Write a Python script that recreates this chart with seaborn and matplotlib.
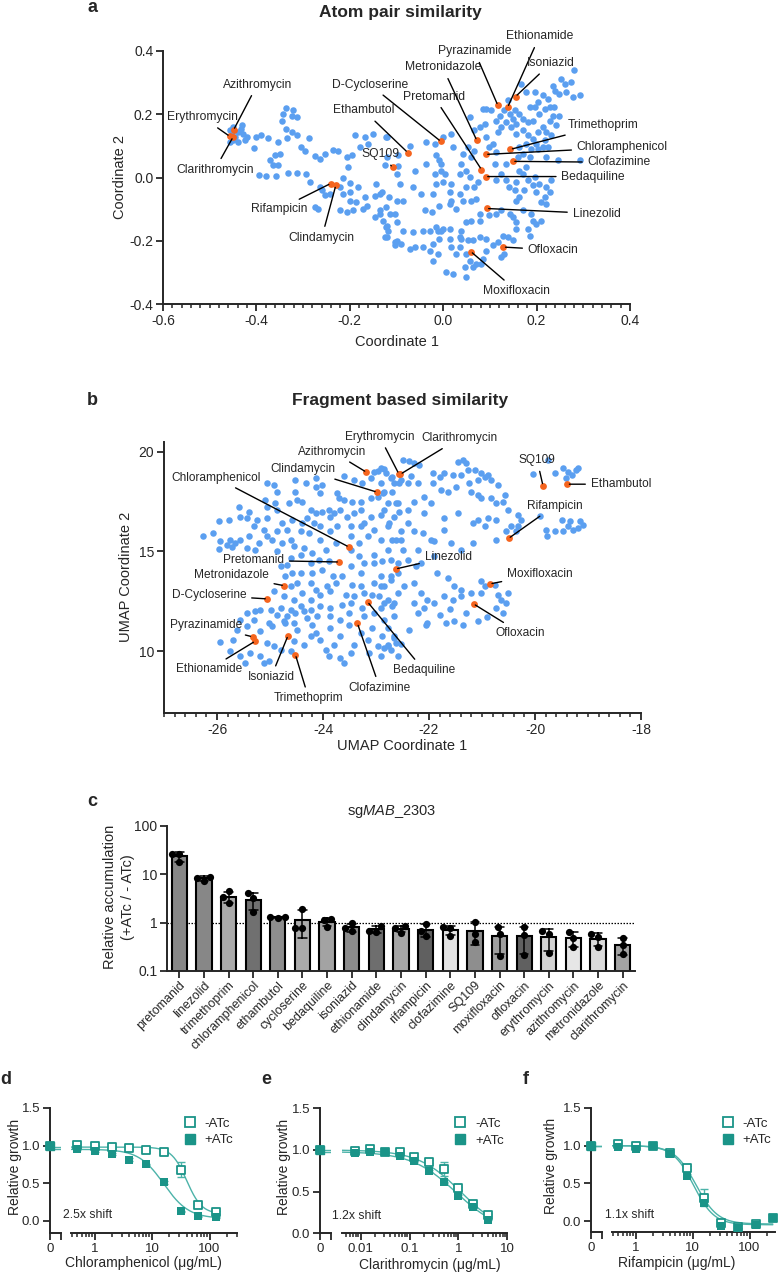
import numpy as np
import pandas as pd
import matplotlib
matplotlib.use('agg')
import matplotlib.pyplot as plt
from matplotlib.ticker import MultipleLocator, FixedLocator, LogLocator, NullFormatter, NullLocator
from matplotlib.lines import Line2D
import seaborn as sns

sns.set_style('ticks')
plt.rcParams['font.family'] = ['Liberation Sans', 'DejaVu Sans']
plt.rcParams['axes.unicode_minus'] = False
plt.rcParams['mathtext.fontset'] = 'custom'
plt.rcParams['mathtext.rm'] = 'Liberation Sans'
plt.rcParams['mathtext.it'] = 'Liberation Sans:italic'

# ---------------- panel a: atom pair similarity (MDS) ----------------
atom_bg = [
    (-0.457, 0.149), (-0.45, 0.159), (-0.439, 0.143), (-0.432, 0.154), (-0.428, 0.138), (-0.43, 0.165),
    (-0.421, 0.128), (-0.45, 0.117), (-0.439, 0.112), (-0.425, 0.117), (-0.457, 0.112), (-0.446, 0.128),
    (-0.453, 0.143), (-0.405, 0.093), (-0.4, 0.128), (-0.39, 0.135), (-0.375, 0.126), (-0.353, 0.112),
    (-0.335, 0.124), (-0.337, 0.22), (-0.342, 0.2), (-0.346, 0.18), (-0.321, 0.212), (-0.312, 0.19),
    (-0.323, 0.196), (-0.323, 0.143), (-0.313, 0.133), (-0.305, 0.098), (-0.297, 0.085), (-0.287, 0.126),
    (-0.337, 0.154), (-0.371, 0.056), (-0.36, 0.07), (-0.35, 0.075), (-0.364, 0.038), (-0.353, 0.038),
    (-0.357, 0.006), (-0.394, 0.009), (-0.38, 0.006), (-0.333, 0.014), (-0.314, 0.014), (-0.294, 0.012),
    (-0.275, 0.068), (-0.264, 0.059), (-0.253, 0.073), (-0.237, 0.088), (-0.225, 0.083), (-0.286, -0.015),
    (-0.264, -0.031), (-0.26, -0.041), (-0.253, -0.054), (-0.242, -0.052), (-0.221, -0.031), (-0.214, -0.052),
    (-0.2, -0.046), (-0.214, 0.0), (-0.2, -0.018), (-0.2, -0.073), (-0.221, -0.104), (-0.207, -0.11),
    (-0.193, -0.104), (-0.275, -0.094), (-0.268, -0.099), (-0.207, 0.064), (-0.196, 0.07), (-0.204, 0.033),
    (-0.189, 0.133), (-0.179, 0.096), (-0.168, 0.128), (-0.161, 0.107), (-0.15, 0.138), (-0.143, -0.02),
    (-0.145, -0.057), (-0.132, -0.046), (-0.146, -0.126), (-0.136, -0.104), (-0.129, -0.136), (-0.121, -0.152),
    (-0.118, -0.168), (-0.121, -0.189), (-0.1, -0.2), (-0.104, -0.215), (-0.186, -0.078), (-0.168, -0.062),
    (-0.164, -0.089), (-0.182, -0.031), (-0.171, -0.099), (-0.121, 0.064), (-0.121, 0.128), (-0.1, 0.012),
    (-0.096, 0.07), (-0.1, -0.073), (-0.114, -0.115),
    (0.280, 0.339), (0.253, 0.312), (0.274, 0.302), (0.26, 0.296), (0.24, 0.275), (0.249, 0.265),
    (0.263, 0.27), (0.292, 0.262), (0.278, 0.254), (0.235, 0.288), (0.213, 0.26), (0.224, 0.249),
    (0.228, 0.223), (0.196, 0.27), (0.185, 0.223), (0.196, 0.223), (0.203, 0.238), (0.217, 0.217),
    (0.238, 0.223), (0.249, 0.196), (0.235, 0.196), (0.206, 0.202), (0.167, 0.296), (0.178, 0.27),
    (0.192, 0.18), (0.181, 0.175), (0.171, 0.186), (0.163, 0.202), (0.153, 0.212), (0.142, 0.202),
    (0.131, 0.212), (0.121, 0.196), (0.114, 0.18), (0.103, 0.212), (0.092, 0.217), (0.139, 0.244),
    (0.149, 0.186), (0.156, 0.17), (0.146, 0.159), (0.135, 0.175), (0.124, 0.161), (0.117, 0.143),
    (0.156, 0.138), (0.171, 0.149), (0.181, 0.133), (0.192, 0.122), (0.203, 0.143), (0.213, 0.159),
    (0.22, 0.143), (0.228, 0.18), (0.242, 0.165), (0.231, 0.133), (0.199, 0.107), (0.217, 0.117),
    (0.213, 0.096), (0.203, 0.091), (0.224, 0.096), (0.188, 0.091), (0.178, 0.107), (0.163, 0.096),
    (0.171, 0.075), (0.16, 0.064), (0.185, 0.064), (0.22, 0.064), (0.245, 0.056), (0.292, 0.056),
    (0.178, 0.033), (0.171, 0.012), (0.163, 0.022), (0.156, -0.015), (0.181, -0.009), (0.196, 0.001),
    (0.206, -0.02), (0.22, -0.031), (0.231, -0.009), (0.228, -0.046), (0.217, -0.062), (0.199, -0.046),
    (0.192, -0.025), (0.174, -0.041), (0.163, -0.062), (0.156, -0.073), (0.153, -0.041), (0.141, -0.031),
    (0.135, -0.009), (0.124, 0.012), (0.114, -0.009), (0.135, 0.043), (0.11, 0.043), (0.114, 0.08),
    (0.106, 0.107), (0.099, 0.096), (0.092, 0.128), (0.089, 0.17), (0.078, 0.159), (0.067, 0.149),
    (0.057, 0.191), (0.085, 0.217), (0.067, 0.085), (0.06, 0.064), (0.053, 0.096), (0.042, 0.075),
    (0.039, 0.043), (0.049, 0.022), (0.035, 0.012), (0.021, 0.096), (0.017, 0.138), (0.0, 0.128),
    (-0.018, 0.107), (-0.036, 0.112), (-0.072, 0.099), (-0.097, 0.035), (0.057, 0.001), (0.067, -0.031),
    (0.074, -0.015), (0.049, -0.031), (0.035, -0.052), (0.014, -0.046), (0.017, -0.073), (0.042, -0.073),
    (0.06, -0.073), (0.071, -0.068), (0.028, -0.099), (0.014, -0.083), (-0.008, -0.089), (-0.022, -0.052),
    (-0.047, -0.052), (-0.065, -0.031), (-0.061, 0.022), (-0.036, 0.043), (-0.018, 0.012), (-0.004, 0.022),
    (0.003, 0.012), (-0.015, 0.07), (-0.008, 0.054), (-0.004, 0.043), (0.017, -0.02), (0.0, -0.015),
    (-0.015, -0.02), (-0.093, -0.02), (-0.086, -0.073), (-0.104, -0.115), (-0.1, -0.141), (-0.122, -0.094),
    (-0.122, -0.157), (-0.125, -0.189), (-0.104, -0.205), (-0.09, -0.21), (-0.086, -0.168), (-0.065, -0.173),
    (-0.072, -0.226), (-0.061, -0.22), (-0.043, -0.168), (-0.04, -0.104), (-0.025, -0.11), (-0.029, -0.168),
    (-0.015, -0.157), (-0.011, -0.168), (-0.004, -0.168), (0.0, -0.162), (0.014, -0.162), (-0.043, -0.22),
    (-0.029, -0.231), (-0.022, -0.21), (-0.008, -0.194), (0.014, -0.194), (0.017, -0.22), (0.035, -0.189),
    (0.039, -0.168), (0.049, -0.141), (0.06, -0.136), (0.078, -0.136), (0.078, -0.115), (0.099, -0.12),
    (0.114, -0.115), (0.124, -0.104), (0.142, -0.115), (0.149, -0.126), (0.156, -0.141), (0.171, -0.104),
    (0.188, -0.115), (0.192, -0.136), (0.21, -0.136), (0.199, -0.147), (0.181, -0.162), (0.156, -0.162),
    (0.149, -0.199), (0.139, -0.189), (0.128, -0.184), (0.117, -0.205), (0.106, -0.215), (0.092, -0.194),
    (0.078, -0.189), (0.064, -0.199), (0.053, -0.199), (0.039, -0.194), (0.035, -0.22), (0.049, -0.242),
    (0.057, -0.263), (0.071, -0.273), (0.081, -0.273), (0.085, -0.257), (0.064, -0.284), (0.046, -0.284),
    (0.049, -0.315), (0.021, -0.305), (0.007, -0.3), (0.028, -0.242), (0.131, -0.242), (0.124, -0.252),
    (-0.011, -0.242), (-0.022, -0.263), (0.092, -0.231), (0.185, -0.184), (0.21, -0.078), (0.22, -0.083),
    (-0.122, 0.128), (-0.125, 0.038), (-0.136, -0.052), (-0.115, -0.062), (-0.136, -0.115),
]
atom_drugs = ['Azithromycin', 'Erythromycin', 'Clarithromycin', 'Rifampicin', 'Clindamycin', 'SQ109',
              'Ethambutol', 'D-Cycloserine', 'Pretomanid', 'Metronidazole', 'Pyrazinamide', 'Ethionamide',
              'Isoniazid', 'Trimethoprim', 'Chloramphenicol', 'Clofazimine', 'Bedaquiline', 'Linezolid',
              'Ofloxacin', 'Moxifloxacin']
atom_drug_x = [-0.449, -0.457, -0.450, -0.241, -0.230, -0.108, -0.076, -0.005, 0.082, 0.072, 0.117, 0.138,
               0.155, 0.144, 0.091, 0.149, 0.091, 0.093, 0.129, 0.059]
atom_drug_y = [0.150, 0.130, 0.128, -0.019, -0.025, 0.032, 0.079, 0.114, 0.025, 0.117, 0.228, 0.222,
               0.256, 0.089, 0.073, 0.051, 0.003, -0.098, -0.220, -0.234]

# ---------------- panel b: fragment based similarity (UMAP) ----------------
frag_bg = [
    (-23.60, 18.80), (-23.41, 18.58), (-23.26, 18.42), (-23.10, 18.67), (-23.04, 19.00), (-22.97, 19.05),
    (-22.85, 19.12), (-22.72, 18.67), (-22.56, 18.42), (-22.86, 17.95), (-22.69, 18.00), (-22.91, 18.42),
    (-25.06, 18.42), (-24.93, 18.33), (-24.87, 18.00), (-24.52, 18.58), (-24.52, 18.00), (-24.33, 18.42),
    (-24.14, 18.67), (-24.14, 18.25), (-24.01, 18.33), (-24.05, 17.92), (-23.73, 17.92), (-23.70, 17.67),
    (-23.60, 17.58), (-23.45, 17.50), (-23.29, 17.50), (-23.10, 17.67), (-22.97, 17.75), (-22.78, 17.42),
    (-22.59, 17.42), (-25.40, 17.00), (-25.09, 17.58), (-25.06, 17.25), (-24.90, 17.42), (-24.87, 17.08),
    (-24.65, 17.42), (-24.49, 17.58), (-24.39, 17.50), (-24.23, 17.08), (-24.14, 16.92), (-24.01, 17.00),
    (-23.89, 17.08), (-23.79, 16.92), (-23.67, 17.08), (-23.54, 16.75), (-23.41, 16.92), (-23.29, 17.08),
    (-23.22, 16.42), (-23.10, 16.75), (-22.91, 16.83), (-22.75, 16.42), (-22.66, 16.75), (-25.24, 16.58),
    (-25.06, 16.67), (-24.77, 16.42), (-24.58, 16.58), (-24.39, 16.42), (-24.30, 16.67), (-24.17, 16.42),
    (-24.05, 16.25), (-23.86, 16.75), (-23.73, 16.25), (-23.48, 16.25), (-23.29, 16.25), (-23.04, 16.08),
    (-25.97, 16.50), (-25.78, 16.58), (-25.59, 17.25), (-25.56, 16.75), (-25.43, 16.67), (-25.31, 16.25),
    (-25.12, 16.08), (-25.06, 15.75), (-24.87, 16.00), (-24.68, 16.08), (-24.61, 15.58), (-24.42, 16.00),
    (-24.27, 15.92), (-24.05, 15.58), (-23.86, 16.00), (-23.76, 15.42), (-23.48, 15.75), (-23.32, 15.42),
    (-23.16, 15.75), (-22.91, 15.58), (-22.78, 15.08), (-22.63, 15.58), (-26.26, 15.75), (-26.07, 15.92),
    (-25.94, 15.50), (-25.75, 15.58), (-25.66, 15.42), (-25.56, 15.58), (-25.40, 15.75), (-25.21, 15.42),
    (-25.97, 15.12), (-25.81, 15.33), (-25.72, 15.22), (-25.43, 15.17), (-25.28, 15.08), (-24.96, 15.58),
    (-24.77, 15.42), (-24.87, 15.00), (-24.55, 15.25), (-24.36, 15.17), (-24.20, 14.92), (-23.95, 15.08),
    (-23.48, 15.08), (-23.32, 14.75), (-23.04, 14.83), (-24.61, 14.67), (-24.42, 14.83), (-24.23, 14.42),
    (-24.08, 14.58), (-23.89, 14.50), (-23.22, 14.42), (-23.04, 14.42), (-22.88, 14.50), (-22.59, 14.42),
    (-23.48, 14.25), (-23.29, 13.92), (-22.91, 13.75), (-22.72, 13.75), (-22.59, 13.92), (-24.80, 14.25),
    (-24.68, 14.33), (-24.58, 13.92), (-24.71, 13.75), (-24.42, 13.92), (-24.20, 13.92), (-24.01, 14.08),
    (-23.82, 13.75), (-23.64, 13.75), (-24.61, 13.25), (-24.49, 13.42), (-24.23, 13.42), (-24.14, 13.08),
    (-23.92, 13.25), (-23.76, 13.42), (-23.45, 13.33), (-23.29, 13.25), (-23.04, 13.42), (-22.91, 13.25),
    (-22.72, 13.58), (-24.93, 13.00), (-24.74, 12.75), (-24.55, 12.58), (-24.39, 12.92), (-24.23, 12.58),
    (-24.05, 12.83), (-23.86, 13.00), (-23.57, 12.83), (-23.41, 12.75), (-23.22, 12.92), (-23.07, 12.83),
    (-22.94, 12.75), (-22.78, 12.58), (-22.59, 12.92), (-25.18, 12.08), (-24.99, 12.08), (-24.80, 12.17),
    (-24.61, 12.08), (-24.42, 12.25), (-24.23, 12.08), (-24.05, 12.25), (-23.86, 12.17), (-23.64, 12.33),
    (-23.48, 12.42), (-23.26, 12.17), (-22.91, 12.17), (-22.69, 12.25),
    (-25.43, 11.92), (-25.28, 12.00), (-24.87, 11.83), (-24.68, 11.75), (-24.52, 11.92), (-24.36, 12.00),
    (-25.56, 11.58), (-25.31, 11.58), (-25.02, 11.42), (-24.74, 11.50), (-24.55, 11.42), (-24.30, 11.67),
    (-24.11, 11.75), (-23.86, 11.75), (-23.67, 11.58), (-23.51, 11.92), (-23.22, 11.75), (-23.04, 11.92),
    (-22.85, 11.58), (-22.66, 11.75),
    (-25.94, 10.45), (-25.69, 10.58), (-25.75, 10.00), (-25.56, 9.75), (-25.47, 9.42), (-25.37, 9.92),
    (-25.18, 9.75), (-25.12, 9.42), (-25.02, 9.50), (-25.06, 10.42), (-24.93, 10.25), (-24.80, 10.08),
    (-24.61, 10.00), (-24.55, 10.50), (-24.36, 10.33), (-24.23, 10.75), (-24.14, 10.92), (-24.05, 10.58),
    (-23.95, 10.08), (-23.89, 9.75), (-23.79, 10.33), (-23.67, 10.75), (-23.67, 9.67), (-23.60, 9.42),
    (-23.48, 9.92), (-23.41, 10.33), (-23.29, 10.92), (-23.16, 10.58), (-23.13, 9.92), (-22.97, 10.25),
    (-22.78, 10.33), (-22.66, 10.75), (-22.91, 9.75), (-22.59, 9.75), (-25.62, 11.08), (-25.43, 11.25),
    (-25.18, 11.00), (-24.96, 11.25), (-24.71, 11.42), (-24.49, 11.08), (-24.20, 11.33), (-23.86, 11.17),
    (-23.51, 11.33), (-23.07, 11.17), (-22.78, 11.17),
    (-22.91, 19.17), (-22.81, 18.92), (-22.69, 18.75), (-22.50, 19.58), (-22.37, 19.55), (-22.28, 19.42),
    (-22.18, 19.33), (-22.34, 18.80), (-22.53, 18.58), (-22.66, 18.42), (-22.40, 18.42), (-22.21, 18.42),
    (-22.85, 18.00), (-21.93, 18.92), (-21.80, 18.75), (-21.71, 18.92), (-21.55, 18.83), (-21.46, 19.50),
    (-21.36, 19.58), (-21.30, 19.42), (-21.27, 19.08), (-21.39, 18.83), (-21.14, 19.08), (-21.02, 18.92),
    (-20.95, 18.75), (-20.89, 18.83), (-21.08, 18.58), (-20.83, 18.58), (-20.70, 18.33), (-21.93, 18.42),
    (-21.77, 18.08), (-21.65, 18.00), (-21.49, 18.25), (-21.24, 18.42), (-21.20, 18.00), (-21.08, 17.83),
    (-21.02, 17.67), (-20.83, 17.67), (-20.73, 17.42), (-20.61, 17.50), (-20.57, 17.83), (-20.51, 17.08),
    (-22.09, 17.75), (-21.96, 17.42), (-22.28, 17.50), (-22.62, 17.42), (-22.85, 17.08), (-22.78, 16.25),
    (-22.56, 17.00), (-22.40, 17.08), (-22.09, 16.92), (-21.71, 16.67), (-21.46, 16.92), (-21.17, 16.42),
    (-21.08, 16.58), (-20.95, 16.25), (-20.89, 16.67), (-20.73, 16.58), (-20.54, 16.00), (-20.73, 15.58),
    (-20.32, 16.83), (-20.26, 16.58), (-20.32, 16.25), (-20.35, 16.00), (-20.45, 16.25), (-19.91, 16.78),
    (-19.50, 16.58), (-19.34, 16.50), (-19.15, 16.50), (-19.37, 16.25), (-19.28, 16.08), (-19.47, 16.00),
    (-19.18, 16.17), (-19.09, 16.33), (-19.80, 16.08), (-19.63, 16.00), (-19.78, 15.75), (-20.04, 18.87),
    (-19.75, 19.58), (-19.63, 18.92), (-19.47, 19.17), (-19.37, 19.00), (-19.22, 19.08), (-19.31, 18.83),
    (-19.18, 19.17), (-19.41, 18.67), (-22.40, 16.42), (-22.28, 16.00), (-22.53, 16.00), (-22.69, 15.58),
    (-22.53, 15.58), (-22.12, 15.92), (-21.96, 15.58), (-21.90, 15.50), (-21.71, 16.08), (-21.58, 15.42),
    (-21.39, 15.08), (-21.17, 15.42), (-22.50, 15.08), (-22.21, 15.08), (-22.72, 14.58), (-22.40, 14.58),
    (-22.25, 14.25), (-22.15, 14.42), (-21.90, 14.75), (-21.84, 13.92), (-21.65, 13.67), (-21.52, 13.25),
    (-21.39, 13.08), (-21.55, 12.58), (-21.39, 12.75), (-21.02, 13.50), (-20.95, 13.25), (-20.76, 13.33),
    (-20.70, 12.83), (-20.64, 12.58), (-21.02, 12.92), (-21.20, 12.92), (-20.73, 12.17), (-20.54, 12.42),
    (-20.51, 12.92), (-22.85, 13.25), (-22.66, 12.42), (-22.85, 12.42), (-22.47, 13.25), (-22.28, 13.42),
    (-22.15, 12.92), (-22.03, 12.58), (-21.90, 12.42), (-21.71, 12.75), (-22.28, 12.42), (-22.09, 12.17),
    (-22.88, 10.75), (-22.78, 10.25), (-22.85, 10.17), (-22.66, 10.67), (-22.62, 10.42), (-22.53, 10.38),
    (-22.72, 10.08), (-22.37, 11.08), (-22.06, 11.33), (-21.68, 11.42), (-21.52, 11.50), (-21.36, 11.33),
    (-21.08, 11.50), (-22.03, 11.42), (-22.20, 11.90), (-21.80, 11.80), (-21.30, 11.90), (-20.90, 11.70),
    (-21.60, 12.10), (-20.60, 11.90),
]
frag_drugs = ['Erythromycin', 'Clarithromycin', 'Azithromycin', 'Clindamycin', 'Chloramphenicol', 'Pretomanid',
              'Metronidazole', 'D-Cycloserine', 'Pyrazinamide', 'Ethionamide', 'Isoniazid', 'Trimethoprim',
              'Clofazimine', 'Bedaquiline', 'Ofloxacin', 'Moxifloxacin', 'Linezolid', 'Rifampicin', 'SQ109',
              'Ethambutol']
frag_drug_x = [-22.57, -22.54, -23.18, -22.98, -23.51, -23.69, -24.73, -25.05, -25.33, -25.28, -24.66, -24.52,
               -23.35, -23.16, -21.16, -20.85, -22.63, -20.50, -19.85, -19.39]
frag_drug_y = [18.89, 18.87, 18.97, 17.97, 15.22, 14.47, 13.28, 12.62, 10.72, 10.50, 10.78, 9.82,
               11.39, 12.47, 12.37, 13.37, 14.12, 15.65, 18.30, 18.37]

# ---------------- panel c: relative accumulation ----------------
acc_drugs = ['pretomanid', 'linezolid', 'trimethoprim', 'chloramphenicol', 'ethambutol', 'cycloserine',
             'bedaquiline', 'isoniazid', 'ethionamide', 'clindamycin', 'rifampicin', 'clofazimine', 'SQ109',
             'moxifloxacin', 'ofloxacin', 'erythromycin', 'azithromycin', 'metronidazole', 'clarithromycin']
acc_rep1 = [26.3, 7.3, 4.38, 4.05, 1.27, 1.89, 1.20, 0.97, 0.85, 0.83, 0.95, 0.80, 1.05, 0.80, 0.80, 0.68, 0.63, 0.58, 0.49]
acc_rep2 = [26.3, 8.9, 2.59, 1.69, 1.30, 0.76, 0.82, 0.68, 0.68, 0.62, 0.52, 0.53, 0.58, 0.57, 0.56, 0.57, 0.47, 0.50, 0.345]
acc_rep3 = [17.4, 8.3, 3.34, 3.19, 1.28, 0.76, 1.12, 0.76, 0.65, 0.76, 0.68, 0.76, 0.40, 0.20, 0.21, 0.23, 0.32, 0.32, 0.22]
acc_colors = ['#878787', '#878787', '#a9a9a9', '#707070', '#8e8e8e', '#ababab', '#a3a3a3', '#8c8c8c', '#6e6e6e',
              '#a6a6a6', '#606060', '#e3e3e3', '#8e8e8e', '#9f9f9f', '#606060', '#d3d3d3', '#e6e6e6', '#dadada',
              '#a3a3a3']

# ---------------- panels d-f: dose response ----------------
chl_conc = [0.5, 1, 2, 4, 8, 16, 32, 64, 128]
chl_minus = [1.01, 1.00, 0.98, 0.965, 0.94, 0.91, 0.68, 0.21, 0.115]
chl_minus_sd = [0.01, 0.01, 0.01, 0.01, 0.01, 0.02, 0.10, 0.02, 0.02]
chl_plus = [0.955, 0.93, 0.89, 0.81, 0.75, 0.51, 0.124, 0.058, 0.045]
chl_plus_sd = [0.01, 0.01, 0.01, 0.02, 0.01, 0.02, 0.01, 0.01, 0.01]
chl_fit_minus = (0.98, 0.09, 40.0, 3.3)   # top, bottom, IC50, hill
chl_fit_plus = (0.95, 0.03, 16.0, 2.0)

cla_conc = [0.0078, 0.0156, 0.03125, 0.0625, 0.125, 0.25, 0.5, 1, 2, 4]
cla_minus = [0.99, 1.01, 0.98, 0.97, 0.92, 0.86, 0.77, 0.54, 0.35, 0.22]
cla_minus_sd = [0.01, 0.01, 0.01, 0.01, 0.01, 0.02, 0.08, 0.02, 0.02, 0.01]
cla_plus = [0.96, 0.98, 0.97, 0.93, 0.87, 0.75, 0.61, 0.45, 0.31, 0.165]
cla_plus_sd = [0.01, 0.01, 0.01, 0.01, 0.01, 0.01, 0.01, 0.01, 0.01, 0.01]
cla_fit_minus = (1.0, 0.0, 1.1, 1.0)
cla_fit_plus = (0.98, 0.0, 0.9, 0.95)

rif_conc = [0.5, 1, 2, 4, 8, 16, 32, 64, 128, 256]
rif_minus = [1.02, 1.00, 1.00, 0.90, 0.71, 0.31, -0.02, -0.075, -0.04, 0.045]
rif_minus_sd = [0.01, 0.01, 0.01, 0.02, 0.02, 0.11, 0.02, 0.02, 0.01, 0.01]
rif_plus = [0.98, 0.955, 1.00, 0.885, 0.60, 0.235, -0.066, -0.097, -0.053, 0.045]
rif_plus_sd = [0.01, 0.01, 0.01, 0.01, 0.02, 0.02, 0.01, 0.01, 0.01, 0.01]
rif_fit_minus = (1.0, -0.04, 11.5, 2.3)
rif_fit_plus = (1.0, -0.05, 10.4, 2.4)

zero_growth = 1.0

BLUE = '#5b9ff0'
ORANGE = '#f5641e'
TEAL = '#1a9488'
TEAL_LINE = '#4cb3a9'
W, H = 780, 1274


def fx(px):
    return px / W


def fy(py):
    return 1 - py / H


def style_axes(ax):
    for side in ['top', 'right']:
        ax.spines[side].set_visible(False)
    for side in ['left', 'bottom']:
        ax.spines[side].set_linewidth(1.4)
    ax.tick_params(which='major', direction='out', length=5, width=1.3, labelsize=10, pad=2)
    ax.tick_params(which='minor', direction='out', length=3, width=1.1)


def annotate_drugs(ax, names, xs, ys, labels, size):
    for name, x, y in zip(names, xs, ys):
        tx, ty, ha = labels[name]
        ax.annotate(name, xy=(x, y), xytext=(tx, ty), ha=ha, va='center', fontsize=size,
                    annotation_clip=False,
                    arrowprops=dict(arrowstyle='-', color='black', lw=1.0, shrinkA=1.5, shrinkB=1.5))


fig = plt.figure(figsize=(7.8, 12.74), dpi=100)

# ---- a ----
ax_a = fig.add_axes([fx(163), fy(304), (630 - 163) / W, (304 - 51) / H])
sns.scatterplot(x=[p[0] for p in atom_bg], y=[p[1] for p in atom_bg], color=BLUE, s=22,
                linewidth=0, ax=ax_a, zorder=2)
sns.scatterplot(x=atom_drug_x, y=atom_drug_y, color=ORANGE, s=24, linewidth=0, ax=ax_a, zorder=3)
ax_a.set_xlim(-0.6, 0.4)
ax_a.set_ylim(-0.4, 0.4)
ax_a.xaxis.set_major_locator(MultipleLocator(0.2))
ax_a.xaxis.set_minor_locator(MultipleLocator(0.02))
ax_a.yaxis.set_major_locator(MultipleLocator(0.2))
ax_a.set_xticklabels([f'{v:.1f}' for v in ax_a.get_xticks()])
ax_a.set_yticklabels([f'{v:.1f}' for v in ax_a.get_yticks()])
style_axes(ax_a)
ax_a.set_xlabel('')
ax_a.set_ylabel('')
atom_labels = {
    'Azithromycin': (-0.398, 0.294, 'center'), 'Erythromycin': (-0.515, 0.190, 'center'),
    'Clarithromycin': (-0.489, 0.025, 'center'), 'Rifampicin': (-0.352, -0.101, 'center'),
    'Clindamycin': (-0.260, -0.190, 'center'), 'SQ109': (-0.134, 0.073, 'center'),
    'Ethambutol': (-0.170, 0.212, 'center'), 'D-Cycloserine': (-0.157, 0.294, 'center'),
    'Pretomanid': (-0.020, 0.256, 'center'), 'Metronidazole': (-0.001, 0.348, 'center'),
    'Pyrazinamide': (0.067, 0.399, 'center'), 'Ethionamide': (0.206, 0.446, 'center'),
    'Isoniazid': (0.230, 0.361, 'center'), 'Trimethoprim': (0.266, 0.165, 'left'),
    'Chloramphenicol': (0.286, 0.095, 'left'), 'Clofazimine': (0.309, 0.048, 'left'),
    'Bedaquiline': (0.253, 0.003, 'left'), 'Linezolid': (0.277, -0.114, 'left'),
    'Ofloxacin': (0.181, -0.229, 'left'), 'Moxifloxacin': (0.157, -0.358, 'center'),
}
annotate_drugs(ax_a, atom_drugs, atom_drug_x, atom_drug_y, atom_labels, 8.7)
fig.text(fx(397), fy(342), 'Coordinate 1', ha='center', va='center', fontsize=10.5)
fig.text(fx(120), fy(177), 'Coordinate 2', ha='center', va='center', fontsize=10.5, rotation=90)
fig.text(fx(400), fy(13), 'Atom pair similarity', ha='center', va='center', fontsize=12.5, fontweight='bold')
fig.text(fx(92), fy(7), 'a', ha='center', va='center', fontsize=13, fontweight='bold')

# ---- b ----
ax_b = fig.add_axes([fx(164), fy(713), (641 - 164) / W, (713 - 441.7) / H])
sns.scatterplot(x=[p[0] for p in frag_bg], y=[p[1] for p in frag_bg], color=BLUE, s=22,
                linewidth=0, ax=ax_b, zorder=2)
sns.scatterplot(x=frag_drug_x, y=frag_drug_y, color=ORANGE, s=24, linewidth=0, ax=ax_b, zorder=3)
ax_b.set_xlim(-27, -18)
ax_b.set_ylim(6.9, 20.5)
ax_b.xaxis.set_major_locator(FixedLocator([-26, -24, -22, -20, -18]))
ax_b.xaxis.set_minor_locator(MultipleLocator(0.2))
ax_b.yaxis.set_major_locator(FixedLocator([10, 15, 20]))
style_axes(ax_b)
ax_b.set_xlabel('')
ax_b.set_ylabel('')
frag_labels = {
    'Erythromycin': (-22.93, 20.75, 'center'), 'Clarithromycin': (-21.43, 20.67, 'center'),
    'Azithromycin': (-23.82, 20.00, 'center'), 'Clindamycin': (-24.38, 19.12, 'center'),
    'Chloramphenicol': (-26.02, 18.70, 'center'), 'Pretomanid': (-25.31, 14.55, 'center'),
    'Metronidazole': (-25.73, 13.80, 'center'), 'D-Cycloserine': (-26.15, 12.80, 'center'),
    'Pyrazinamide': (-26.20, 11.30, 'center'), 'Ethionamide': (-26.15, 9.09, 'center'),
    'Isoniazid': (-24.98, 8.70, 'center'), 'Trimethoprim': (-24.27, 7.64, 'center'),
    'Clofazimine': (-22.93, 8.17, 'center'), 'Bedaquiline': (-22.10, 9.05, 'center'),
    'Ofloxacin': (-20.28, 10.92, 'center'), 'Moxifloxacin': (-19.91, 13.87, 'center'),
    'Linezolid': (-21.64, 14.72, 'center'), 'Rifampicin': (-19.63, 17.29, 'center'),
    'SQ109': (-19.96, 19.58, 'center'), 'Ethambutol': (-18.38, 18.37, 'center'),
}
annotate_drugs(ax_b, frag_drugs, frag_drug_x, frag_drug_y, frag_labels, 8.6)
fig.text(fx(402), fy(746), 'UMAP Coordinate 1', ha='center', va='center', fontsize=10.5)
fig.text(fx(126), fy(577), 'UMAP Coordinate 2', ha='center', va='center', fontsize=10.5, rotation=90)
fig.text(fx(400), fy(400), 'Fragment based similarity', ha='center', va='center', fontsize=12.5,
         fontweight='bold')
fig.text(fx(92), fy(400), 'b', ha='center', va='center', fontsize=13, fontweight='bold')

# ---- c ----
ax_c = fig.add_axes([fx(167), fy(971), (635 - 167) / W, (971 - 825.7) / H])
df_c = pd.DataFrame({
    'drug': acc_drugs * 3,
    'ratio': acc_rep1 + acc_rep2 + acc_rep3,
})
sns.barplot(data=df_c, x='drug', y='ratio', hue='drug', order=acc_drugs, hue_order=acc_drugs,
            palette=dict(zip(acc_drugs, acc_colors)), legend=False, estimator='mean', errorbar='sd',
            capsize=0.35, width=0.62, edgecolor='black', linewidth=1.5,
            err_kws={'color': 'black', 'linewidth': 1.1}, ax=ax_c, zorder=2)
ax_c.set_yscale('log', nonpositive='clip')
ax_c.set_ylim(0.1, 100)
ax_c.set_xlim(-0.9, 18.7)
sns.swarmplot(data=df_c, x='drug', y='ratio', order=acc_drugs, color='black', size=5.2, ax=ax_c, zorder=4)
ax_c.axhline(1, color='black', lw=0.9, ls=(0, (1.2, 1.2)), zorder=1)
ax_c.yaxis.set_major_locator(FixedLocator([0.1, 1, 10, 100]))
ax_c.yaxis.set_minor_locator(NullLocator())
ax_c.set_yticklabels(['0.1', '1', '10', '100'])
style_axes(ax_c)
ax_c.tick_params(axis='x', labelsize=9, pad=1)
ax_c.set_xticks(range(len(acc_drugs)))
ax_c.set_xticklabels(acc_drugs, rotation=45, ha='right', rotation_mode='anchor')
ax_c.set_xlabel('')
ax_c.set_ylabel('')
fig.text(fx(119), fy(897), 'Relative accumulation\n(+ATc / - ATc)', ha='center', va='center',
         fontsize=10.5, rotation=90, linespacing=1.35)
fig.text(fx(392), fy(811), r'sg$\it{MAB\_2303}$', ha='center', va='center', fontsize=10.5)
fig.text(fx(92), fy(802), 'c', ha='center', va='center', fontsize=13, fontweight='bold')


# ---- d, e, f ----
def hill(x, top, bottom, ic50, slope):
    return bottom + (top - bottom) / (1 + (x / ic50) ** slope)


def dose_panel(zero_px, main_px, top_py, bot_py, ylim, xlim, majors, major_labels,
               conc, minus, minus_sd, plus, plus_sd, fit_minus, fit_plus, shift_text, shift_px,
               xlabel, xlabel_px, ylabel_px, letter_px):
    axz = fig.add_axes([fx(zero_px[0]), fy(bot_py), (zero_px[1] - zero_px[0]) / W, (bot_py - top_py) / H])
    axm = fig.add_axes([fx(main_px[0]), fy(bot_py), (main_px[1] - main_px[0]) / W, (bot_py - top_py) / H])
    for ax in (axz, axm):
        ax.set_ylim(*ylim)
        style_axes(ax)
        ax.tick_params(labelsize=9.5)
    # zero-dose segment
    axz.set_xlim(0, 1)
    axz.set_xticks([0, 1])
    axz.set_xticklabels(['0', ''])
    axz.yaxis.set_major_locator(FixedLocator([0.0, 0.5, 1.0, 1.5]))
    axz.set_yticklabels(['0.0', '0.5', '1.0', '1.5'])
    axz.hlines([fit_minus[0], fit_plus[0]], 0, 1, color=TEAL_LINE, lw=1.0)
    axz.scatter([0], [zero_growth], marker='s', s=30, facecolor='white', edgecolor=TEAL, lw=1.3,
                clip_on=False, zorder=4)
    axz.scatter([0], [zero_growth], marker='s', s=30, color=TEAL, clip_on=False, zorder=5)
    # concentration segment
    axm.spines['left'].set_visible(False)
    axm.tick_params(axis='y', left=False, labelleft=False)
    axm.set_xscale('log')
    axm.set_xlim(*xlim)
    axm.xaxis.set_major_locator(FixedLocator(majors))
    axm.set_xticklabels(major_labels)
    axm.xaxis.set_minor_locator(LogLocator(base=10, subs=np.arange(2, 10), numticks=20))
    axm.xaxis.set_minor_formatter(NullFormatter())
    xs = np.logspace(np.log10(xlim[0]), np.log10(conc[-1]), 300)
    axm.plot(xs, hill(xs, *fit_minus), color=TEAL_LINE, lw=1.0, zorder=2)
    axm.plot(xs, hill(xs, *fit_plus), color=TEAL_LINE, lw=1.0, zorder=2)
    axm.errorbar(conc, minus, yerr=minus_sd, fmt='none', ecolor=TEAL_LINE, elinewidth=1.0, capsize=3, zorder=3)
    axm.errorbar(conc, plus, yerr=plus_sd, fmt='none', ecolor=TEAL_LINE, elinewidth=1.0, capsize=3, zorder=3)
    sns.scatterplot(x=conc, y=minus, marker='s', s=30, facecolor='white', edgecolor=TEAL, linewidth=1.3,
                    ax=axm, zorder=4, clip_on=False)
    sns.scatterplot(x=conc, y=plus, marker='s', s=30, color=TEAL, linewidth=0, ax=axm, zorder=5, clip_on=False)
    handles = [Line2D([], [], marker='s', ls='none', mfc='white', mec=TEAL, mew=1.3, ms=6.5),
               Line2D([], [], marker='s', ls='none', mfc=TEAL, mec=TEAL, ms=6.5)]
    axm.legend(handles, ['-ATc', '+ATc'], loc='upper right', bbox_to_anchor=(1.05, 1.02), frameon=False,
               fontsize=9.5, handletextpad=0.5, labelspacing=0.35, handlelength=1.2)
    fig.text(fx(shift_px[0]), fy(shift_px[1]), shift_text, ha='left', va='center', fontsize=8.8)
    fig.text(fx(xlabel_px[0]), fy(xlabel_px[1]), xlabel, ha='center', va='center', fontsize=10)
    fig.text(fx(ylabel_px), fy((top_py + bot_py) / 2 - 4), 'Relative growth', ha='center', va='center',
             fontsize=10, rotation=90)
    fig.text(fx(letter_px[0]), fy(letter_px[1]), letter_px[2], ha='center', va='center', fontsize=13,
             fontweight='bold')


dose_panel((50, 61), (71, 237), 1108, 1233, (-0.163, 1.5), (0.39, 300), [1, 10, 100], ['1', '10', '100'],
           chl_conc, chl_minus, chl_minus_sd, chl_plus, chl_plus_sd, chl_fit_minus, chl_fit_plus,
           '2.5x shift', (63, 1215), 'Chloramphenicol (\u03bcg/mL)', (143, 1263), 15, (6, 1080, 'd'))
dose_panel((320, 331), (341.7, 507.3), 1108.3, 1233.3, (0.0, 1.5), (0.0041, 10), [0.01, 0.1, 1, 10],
           ['0.01', '0.1', '1', '10'],
           cla_conc, cla_minus, cla_minus_sd, cla_plus, cla_plus_sd, cla_fit_minus, cla_fit_plus,
           '1.2x shift', (332, 1216), 'Clarithromycin (\u03bcg/mL)', (430, 1265), 284, (266, 1080, 'e'))
dose_panel((591, 601.7), (612.3, 775), 1108, 1232.3, (-0.15, 1.5), (0.39, 280), [1, 10, 100],
           ['1', '10', '100'],
           rif_conc, rif_minus, rif_minus_sd, rif_plus, rif_plus_sd, rif_fit_minus, rif_fit_plus,
           '1.1x shift', (605, 1215), 'Rifampicin (\u03bcg/mL)', (677, 1263), 551, (526, 1080, 'f'))

fig.savefig('out.png', dpi=100)
